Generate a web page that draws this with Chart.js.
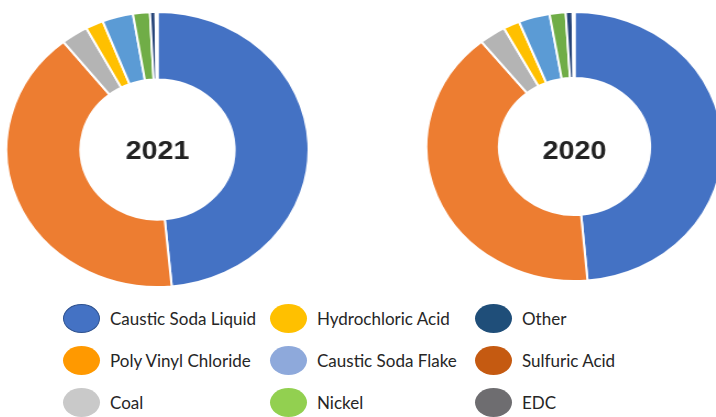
<!DOCTYPE html>
<html>
<head>
    <meta charset="utf-8">
    <title>Product Mix 2021 vs 2020</title>
    <script src="https://cdn.jsdelivr.net/npm/chart.js"></script>
    <style>
        html, body {
            margin: 0;
            padding: 0;
            width: 716px;
            height: 417px;
            overflow: hidden;
            background: #fff;
        }
        .donut {
            position: absolute;
            transform-origin: center center;
        }
        #donut2021 {
            left: 19px;
            top: 11px;
            transform: scaleX(1.099);
        }
        #donut2020 {
            left: 439px;
            top: 11px;
            transform: scaleX(1.101);
        }
        #legend {
            position: absolute;
            left: 0;
            top: 297px;
            width: 716px;
            height: 120px;
            font-family: Lato, "Open Sans", sans-serif;
            font-size: 17px;
            color: #262626;
        }
        .legend-col {
            position: absolute;
            top: 0;
        }
        .legend-item {
            height: 42px;
            display: flex;
            align-items: center;
        }
        .legend-dot {
            width: 37px;
            height: 29px;
            border-radius: 50%;
            margin-right: 10px;
            box-sizing: border-box;
        }
    </style>
</head>
<body>
    <canvas id="donut2021" class="donut" width="277" height="277"></canvas>
    <canvas id="donut2020" class="donut" width="271" height="271"></canvas>
    <div id="legend"></div>

    <script>
    // slice order runs clockwise from 12 o'clock
    const labels = [
        'Caustic Soda Liquid', 'Poly Vinyl Chloride', 'Coal',
        'Hydrochloric Acid', 'Caustic Soda Flake', 'Nickel',
        'Other', 'Sulfuric Acid', 'EDC'
    ];
    const values2021 = [48.5, 40.8, 2.9, 1.9, 3.3, 1.8, 0.6, 0.1, 0.1];
    const values2020 = [48.6, 40.6, 2.9, 1.8, 3.4, 1.75, 0.75, 0.1, 0.1];

    const sliceColors = ['#4472C4', '#ED7D31', '#B4B4B4', '#FFC000', '#5B9BD5', '#70AD47', '#264478', '#9E480E', '#636363'];
    const legendColors = ['#4472C4', '#FF9900', '#C9C9C9', '#FFC000', '#8EA9DB', '#92D050', '#1F4E79', '#C55A11', '#6E6D70'];

    // writes the year in the hole of the ring
    const centerText = {
        id: 'centerText',
        afterDraw(chart, args, opts) {
            const meta = chart.getDatasetMeta(0);
            if (!meta.data.length) return;
            const arc = meta.data[0];
            const ctx = chart.ctx;
            ctx.save();
            ctx.font = 'bold 26px "Liberation Sans", Arial, sans-serif';
            ctx.fillStyle = '#222222';
            ctx.textAlign = 'center';
            ctx.textBaseline = 'alphabetic';
            ctx.fillText(opts.text, arc.x, arc.y + 9.5 + (opts.dy || 0));
            ctx.restore();
        }
    };

    function makeDonut(id, values, year, dy) {
        return new Chart(document.getElementById(id), {
            type: 'doughnut',
            data: {
                labels: labels,
                datasets: [{
                    data: values,
                    backgroundColor: sliceColors,
                    borderColor: '#ffffff',
                    borderWidth: 2
                }]
            },
            options: {
                responsive: false,
                animation: false,
                cutout: '51%',
                layout: { padding: 0 },
                plugins: {
                    legend: { display: false },
                    tooltip: { enabled: false },
                    centerText: { text: year, dy: dy }
                }
            },
            plugins: [centerText]
        });
    }

    makeDonut('donut2021', values2021, '2021', 0);
    makeDonut('donut2020', values2020, '2020', 3);

    // hand-laid legend: three columns of three
    const colLefts = [63, 270, 475];
    const legendEl = document.getElementById('legend');
    colLefts.forEach((left, c) => {
        const col = document.createElement('div');
        col.className = 'legend-col';
        col.style.left = left + 'px';
        for (let r = 0; r < 3; r++) {
            const i = c * 3 + r;
            const item = document.createElement('div');
            item.className = 'legend-item';
            const dot = document.createElement('div');
            dot.className = 'legend-dot';
            dot.style.background = legendColors[i];
            if (i === 0) dot.style.border = '1.5px solid #2F528F';
            const txt = document.createElement('span');
            txt.textContent = labels[i];
            item.appendChild(dot);
            item.appendChild(txt);
            col.appendChild(item);
        }
        legendEl.appendChild(col);
    });
    </script>
</body>
</html>
